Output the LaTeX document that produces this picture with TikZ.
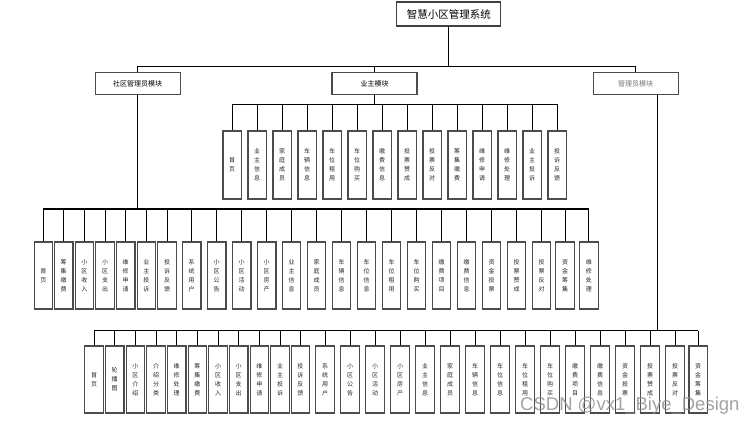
\documentclass[tikz,border=0pt]{standalone}
\usepackage{fontspec}
\setmainfont{Noto Sans CJK SC}
\newfontfamily\markfont{Liberation Sans}

\begin{document}
\begin{tikzpicture}[
    x=1pt, y=-1pt,
    root/.style={draw=black!75, line width=1.2pt, minimum width=104pt,
                 minimum height=24pt, inner sep=0pt,
                 font=\fontsize{10.5}{12}\selectfont},
    mod/.style={draw=black!70, line width=1.2pt, minimum width=85pt,
                minimum height=22pt, inner sep=0pt,
                font=\fontsize{7}{8}\selectfont},
    leaf/.style={draw=black!70, line width=1.1pt, minimum width=18.5pt,
                 minimum height=#1, inner sep=0pt, align=center,
                 text=black!85, font=\fontsize{6}{9}\selectfont},
    leaf/.default=67pt,
    conn/.style={line width=0.9pt, color=black},
  ]
  \useasboundingbox (0,0) rectangle (752,423);

  % System (root)
  \node[root] (sys) at (448.8,14) {智慧小区管理系统};

  % Modules
  \node[mod] (comm) at (137.7,83.5) {社区管理员模块};
  \node[mod] (owner) at (374.5,83.5) {业主模块};
  \node[mod, text=black!55] (admin) at (635.7,83.5) {管理员模块};

  \coordinate (topbus) at (448.8,66);
  \draw[conn] (sys.south) -- (sys.south |- topbus);
  \draw[conn] (comm.north) -- (comm.north |- topbus)
    -- (admin.north |- topbus) -- (admin.north);
  \draw[conn] (owner.north) -- (owner.north |- topbus);

  % Owner module
  \coordinate (ownbus) at (374.5,104.3);
  \foreach \t [count=\i] in {{首\\页}, {业\\主\\信\\息}, {家\\庭\\成\\员},
      {车\\辆\\信\\息}, {车\\位\\租\\用}, {车\\位\\购\\买}, {缴\\费\\信\\息},
      {投\\票\\赞\\成}, {投\\票\\反\\对}, {筹\\集\\缴\\费}, {维\\修\\申\\请},
      {维\\修\\处\\理}, {业\\主\\投\\诉}, {投\\诉\\反\\馈}} {
    \node[leaf=68pt] (own-\i) at ({232.2+25*(\i-1)},165) {\t};
    \draw[conn] (own-\i.north) -- (own-\i.north |- ownbus);
  }
  \draw[conn] (owner.south) -- (owner.south |- ownbus);
  \draw[conn] (own-1.north |- ownbus) -- (own-14.north |- ownbus);

  % Community manager module
  \coordinate (combus) at (137.7,209);
  \foreach \x/\t [count=\i] in {43.3/{首\\页}, 63.7/{筹\\集\\缴\\费},
      84.3/{小\\区\\收\\入}, 105/{小\\区\\支\\出}, 125.7/{维\\修\\申\\请},
      146.3/{业\\主\\投\\诉}, 167/{投\\诉\\反\\馈}, 191.7/{系\\统\\用\\户},
      216.7/{小\\区\\公\\告}, 241.7/{小\\区\\活\\动}, 266.7/{小\\区\\房\\产},
      291.5/{业\\主\\信\\息}, 316.5/{家\\庭\\成\\员}, 341.5/{车\\辆\\信\\息},
      366.5/{车\\位\\信\\息}, 391.5/{车\\位\\租\\用}, 416.5/{车\\位\\购\\买},
      441.5/{缴\\费\\项\\目}, 466.5/{缴\\费\\信\\息}, 491.5/{资\\金\\投\\票},
      516.5/{投\\票\\赞\\成}, 541.5/{投\\票\\反\\对}, 565/{资\\金\\筹\\集},
      588.8/{维\\修\\处\\理}} {
    \node[leaf] (com-\i) at (\x,275.5) {\t};
    \draw[conn] (com-\i.north) -- (com-\i.north |- combus);
  }
  \draw[conn] (comm.south) -- (combus);
  \draw[conn, line width=1.4pt] (com-1.north |- combus) -- (com-24.north |- combus);

  % Administrator module
  \coordinate (admbus) at (657,330.7);
  \foreach \x/\t [count=\i] in {94/{首\\页}, 114.7/{轮\\播\\图},
      135.3/{小\\区\\介\\绍}, 156/{介\\绍\\分\\类}, 176.7/{维\\修\\处\\理},
      197.3/{筹\\集\\缴\\费}, 218/{小\\区\\收\\入}, 238.7/{小\\区\\支\\出},
      259.3/{维\\修\\申\\请}, 280/{业\\主\\投\\诉}, 300.3/{投\\诉\\反\\馈},
      325/{系\\统\\用\\户}, 350/{小\\区\\公\\告}, 375/{小\\区\\活\\动},
      400/{小\\区\\房\\产}, 425/{业\\主\\信\\息}, 450/{家\\庭\\成\\员},
      475/{车\\辆\\信\\息}, 500/{车\\位\\信\\息}, 525/{车\\位\\租\\用},
      550/{车\\位\\购\\买}, 575/{缴\\费\\项\\目}, 600/{缴\\费\\信\\息},
      625/{资\\金\\投\\票}, 650/{投\\票\\赞\\成}, 675/{投\\票\\反\\对},
      698.2/{资\\金\\筹\\集}} {
    \node[leaf] (adm-\i) at (\x,379.5) {\t};
    \draw[conn] (adm-\i.north) -- (adm-\i.north |- admbus);
  }
  \draw[conn] (admin.south -| admbus) -- (admbus);
  \draw[conn] (adm-1.north |- admbus) -- (adm-27.north |- admbus);

  % watermark
  \node[anchor=base west, inner sep=0pt, text=black!45, opacity=0.8,
        font=\markfont\fontsize{18.5}{18.5}\selectfont] (mark) at (520,410)
    {CSDN @vx1\_Biye\_Design};
\end{tikzpicture}
\end{document}
